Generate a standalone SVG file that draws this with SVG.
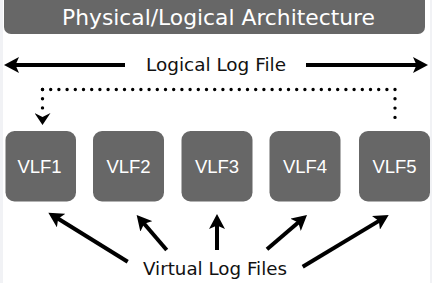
<svg xmlns="http://www.w3.org/2000/svg" width="432" height="291" viewBox="0 0 432 291">
  <style>
    .box { fill: #676767; }
    .boxtxt { font-family: "Liberation Sans", Arial, sans-serif; font-size: 18.5px; fill: #ffffff; text-anchor: middle; }
    .label { font-family: "DejaVu Sans", sans-serif; font-size: 18px; fill: #111111; text-anchor: middle; }
    .title { font-family: "DejaVu Sans", sans-serif; font-size: 22px; fill: #ffffff; text-anchor: middle; }
    .arrow { stroke: #000; stroke-width: 4; fill: none; marker-end: url(#head); }
    .dots { stroke: #000; stroke-width: 3.4; fill: none; stroke-linecap: round; }
  </style>
  <defs>
    <marker id="head" viewBox="0 0 15 16" markerUnits="userSpaceOnUse" markerWidth="15" markerHeight="16" refX="10" refY="8" orient="auto">
      <path d="M0,0 L15,8 L0,16 L3.5,8 z" fill="#000"/>
    </marker>
    <marker id="dothead" viewBox="0 0 12 16" markerUnits="userSpaceOnUse" markerWidth="12" markerHeight="16" refX="0" refY="8" orient="auto">
      <path d="M0,0 L12,8 L0,16 L4,8 z" fill="#000"/>
    </marker>
  </defs>

  <rect x="0" y="0" width="432" height="291" fill="#ffffff"/>
  <rect x="0" y="0" width="3" height="283" fill="#f1f2f5"/>
  <rect x="430" y="0" width="2" height="283" fill="#f1f2f5"/>

  <g id="title">
    <rect x="4" y="-8" width="421" height="42" rx="7" fill="#676767"/>
    <text class="title" x="218.5" y="25" textLength="313" lengthAdjust="spacingAndGlyphs">Physical/Logical Architecture</text>
  </g>

  <g id="logical-log-file">
    <text class="label" x="216" y="71" textLength="140" lengthAdjust="spacingAndGlyphs">Logical Log File</text>
  </g>

  <g id="vlf1">
    <rect class="box" x="5.5" y="131" width="70.5" height="70.5" rx="9"/>
    <text class="boxtxt" x="39.5" y="172.5">VLF1</text>
  </g>
  <g id="vlf2">
    <rect class="box" x="93" y="131" width="71" height="70.5" rx="9"/>
    <text class="boxtxt" x="128.5" y="172.5">VLF2</text>
  </g>
  <g id="vlf3">
    <rect class="box" x="181.5" y="131" width="71" height="70.5" rx="9"/>
    <text class="boxtxt" x="217" y="172.5">VLF3</text>
  </g>
  <g id="vlf4">
    <rect class="box" x="269.5" y="131" width="71" height="70.5" rx="9"/>
    <text class="boxtxt" x="305" y="172.5">VLF4</text>
  </g>
  <g id="vlf5">
    <rect class="box" x="359" y="131" width="71" height="70.5" rx="9"/>
    <text class="boxtxt" x="394.5" y="172.5">VLF5</text>
  </g>

  <g id="virtual-log-files">
    <text class="label" x="215" y="275" textLength="144" lengthAdjust="spacingAndGlyphs">Virtual Log Files</text>
  </g>

  <g id="connectors">
    <line class="arrow" x1="125" y1="65" x2="9" y2="65"/>
    <line class="arrow" x1="306" y1="65" x2="423" y2="65"/>

    <path class="dots" d="M42.5,89.5 H395" stroke-dasharray="0 8.2"/>
    <path class="dots" d="M395,89.5 V119" stroke-dasharray="0 9.3"/>
    <path class="dots" d="M42.5,89.5 V113" stroke-dasharray="0 9.2" marker-end="url(#dothead)"/>

    <line class="arrow" x1="127.7" y1="261.7" x2="52.6" y2="215.3"/>
    <line class="arrow" x1="166.7" y1="250" x2="139.9" y2="218.8"/>
    <line class="arrow" x1="217" y1="250" x2="217" y2="219"/>
    <line class="arrow" x1="267" y1="249.3" x2="303.2" y2="218.3"/>
    <line class="arrow" x1="302.7" y1="266.7" x2="384.4" y2="217.6"/>
  </g>
</svg>
